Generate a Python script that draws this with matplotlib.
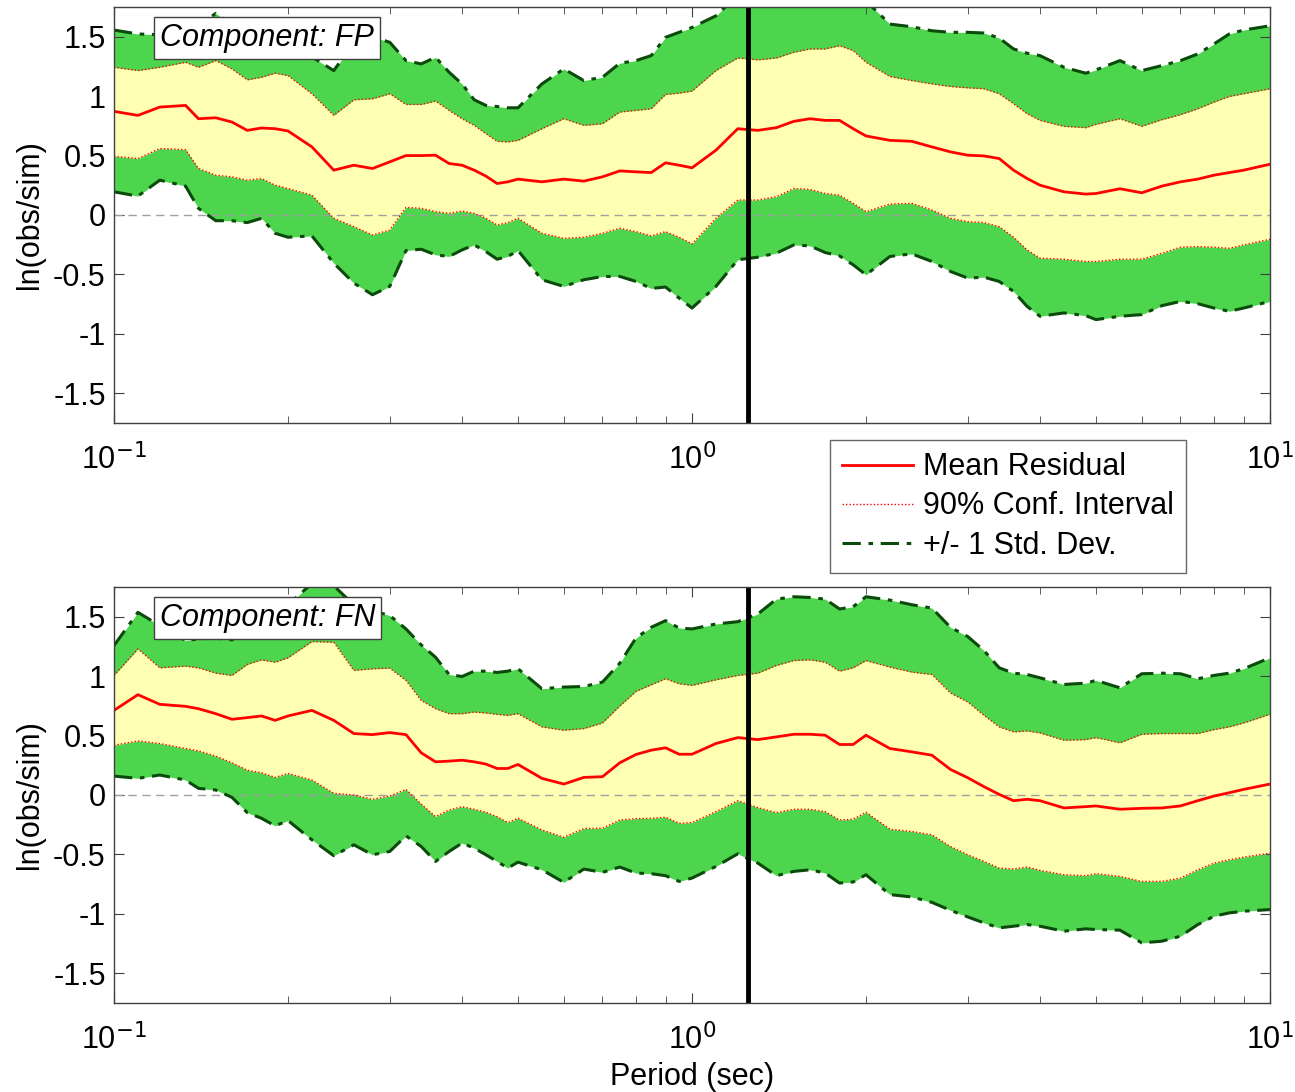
import matplotlib
matplotlib.use("Agg")
import matplotlib.pyplot as plt
from matplotlib.ticker import FixedLocator, FixedFormatter, NullFormatter
import numpy as np

plt.rcParams['font.family'] = ['Liberation Sans', 'DejaVu Sans']

# ---------------- data ----------------
periods = [0.1, 0.11, 0.12, 0.133, 0.14, 0.15, 0.16, 0.17, 0.18, 0.19, 0.2, 0.22, 0.24,
           0.26, 0.28, 0.3, 0.32, 0.34, 0.36, 0.38, 0.4, 0.42, 0.44, 0.46, 0.48, 0.5,
           0.55, 0.6, 0.65, 0.7, 0.75, 0.8, 0.85, 0.9, 0.95, 1.0, 1.1, 1.2, 1.3, 1.4,
           1.5, 1.6, 1.7, 1.8, 1.9, 2.0, 2.2, 2.4, 2.6, 2.8, 3.0, 3.2, 3.4, 3.6, 3.8,
           4.0, 4.4, 4.8, 5.0, 5.5, 6.0, 6.5, 7.0, 7.5, 8.0, 8.5, 9.0, 10.0]

# Component FP
fp_mean = [0.872, 0.838, 0.908, 0.922, 0.810, 0.818, 0.782, 0.712, 0.732, 0.726, 0.707, 0.573, 0.377,
           0.419, 0.391, 0.447, 0.500, 0.500, 0.503, 0.433, 0.419, 0.377, 0.327, 0.265, 0.279, 0.302,
           0.279, 0.302, 0.285, 0.321, 0.371, 0.363, 0.357, 0.439, 0.419, 0.397, 0.545, 0.726, 0.712, 0.735,
           0.788, 0.810, 0.796, 0.796, 0.726, 0.665, 0.628, 0.620, 0.573, 0.531, 0.503, 0.497, 0.475, 0.377, 0.307,
           0.251, 0.195, 0.176, 0.181, 0.221, 0.187, 0.243, 0.279, 0.302, 0.335, 0.357, 0.377, 0.427]
fp_ci_hi = [1.243, 1.215, 1.243, 1.285, 1.243, 1.299, 1.229, 1.137, 1.159, 1.193, 1.173, 1.020, 0.838,
            0.969, 0.978, 1.020, 0.930, 0.930, 0.958, 0.880, 0.810, 0.754, 0.684, 0.620, 0.615, 0.628,
            0.726, 0.810, 0.754, 0.768, 0.866, 0.880, 0.894, 1.014, 1.025, 1.042, 1.215, 1.321, 1.305, 1.321,
            1.369, 1.397, 1.397, 1.425, 1.383, 1.285, 1.165, 1.131, 1.103, 1.081, 1.070, 1.062, 1.020, 0.936, 0.852,
            0.796, 0.746, 0.735, 0.763, 0.810, 0.746, 0.802, 0.844, 0.894, 0.950, 0.997, 1.020, 1.062]
fp_ci_lo = [0.494, 0.475, 0.559, 0.550, 0.391, 0.335, 0.321, 0.293, 0.307, 0.251, 0.223, 0.167, -0.028,
            -0.098, -0.168, -0.126, 0.064, 0.056, 0.028, 0.014, 0.033, 0.014, -0.028, -0.084, -0.064, -0.028,
            -0.154, -0.196, -0.187, -0.154, -0.112, -0.140, -0.176, -0.140, -0.187, -0.243, -0.028, 0.126, 0.126, 0.154,
            0.223, 0.215, 0.181, 0.167, 0.098, 0.028, 0.092, 0.098, 0.042, -0.028, -0.056, -0.064, -0.098, -0.187, -0.294,
            -0.363, -0.372, -0.391, -0.391, -0.372, -0.372, -0.322, -0.271, -0.266, -0.271, -0.280, -0.252, -0.204]
fp_sd_hi = [1.556, 1.523, 1.517, 1.560, 1.600, 1.696, 1.600, 1.550, 1.500, 1.450, 1.420, 1.330, 1.215,
            1.450, 1.500, 1.453, 1.299, 1.271, 1.327, 1.201, 1.103, 0.969, 0.922, 0.913, 0.902, 0.902,
            1.103, 1.229, 1.131, 1.159, 1.277, 1.299, 1.341, 1.495, 1.537, 1.578, 1.676, 1.850, 1.850, 1.900,
            1.950, 1.950, 1.950, 1.900, 1.850, 1.800, 1.606, 1.584, 1.550, 1.537, 1.537, 1.531, 1.489, 1.397, 1.361,
            1.341, 1.243, 1.193, 1.221, 1.299, 1.215, 1.257, 1.299, 1.355, 1.439, 1.523, 1.556, 1.592]
fp_sd_lo = [0.195, 0.159, 0.293, 0.243, 0.056, -0.048, -0.048, -0.064, -0.028, -0.154, -0.187, -0.176, -0.405,
            -0.573, -0.671, -0.601, -0.299, -0.288, -0.335, -0.349, -0.294, -0.252, -0.308, -0.372, -0.349, -0.299,
            -0.545, -0.601, -0.545, -0.517, -0.517, -0.559, -0.618, -0.606, -0.699, -0.783, -0.601, -0.377, -0.355, -0.321,
            -0.252, -0.260, -0.316, -0.344, -0.419, -0.503, -0.349, -0.327, -0.391, -0.475, -0.531, -0.523, -0.559, -0.643, -0.769,
            -0.852, -0.824, -0.847, -0.880, -0.852, -0.838, -0.763, -0.727, -0.746, -0.783, -0.810, -0.783, -0.727]

# Component FN
fn_mean = [0.712, 0.844, 0.763, 0.746, 0.726, 0.684, 0.637, 0.651, 0.665, 0.628, 0.665, 0.712, 0.628,
           0.517, 0.508, 0.525, 0.508, 0.355, 0.279, 0.285, 0.293, 0.279, 0.260, 0.223, 0.223, 0.257,
           0.140, 0.092, 0.148, 0.154, 0.271, 0.341, 0.377, 0.397, 0.343, 0.343, 0.433, 0.483, 0.466, 0.489,
           0.511, 0.511, 0.503, 0.425, 0.425, 0.503, 0.391, 0.363, 0.335, 0.215, 0.145, 0.070, 0.005, -0.048, -0.036,
           -0.048, -0.109, -0.098, -0.092, -0.120, -0.112, -0.109, -0.092, -0.048, -0.009, 0.019, 0.047, 0.092]
fn_ci_hi = [1.006, 1.229, 1.070, 1.084, 1.070, 1.025, 1.006, 1.098, 1.137, 1.117, 1.154, 1.291, 1.285,
            1.048, 1.062, 1.067, 0.964, 0.796, 0.726, 0.684, 0.684, 0.698, 0.690, 0.679, 0.670, 0.684,
            0.573, 0.545, 0.559, 0.606, 0.749, 0.872, 0.927, 0.978, 0.936, 0.922, 0.969, 1.006, 1.025, 1.090,
            1.131, 1.137, 1.117, 1.042, 1.070, 1.131, 1.076, 1.034, 1.014, 0.858, 0.782, 0.670, 0.573, 0.531, 0.539,
            0.522, 0.461, 0.466, 0.483, 0.439, 0.511, 0.517, 0.517, 0.517, 0.550, 0.573, 0.606, 0.679]
fn_ci_lo = [0.419, 0.455, 0.433, 0.391, 0.371, 0.327, 0.271, 0.209, 0.187, 0.148, 0.181, 0.126, 0.014,
            0.000, -0.036, -0.009, 0.047, -0.076, -0.182, -0.126, -0.098, -0.120, -0.145, -0.182, -0.232, -0.196,
            -0.294, -0.355, -0.282, -0.280, -0.210, -0.199, -0.196, -0.187, -0.238, -0.232, -0.140, -0.048, -0.106, -0.148,
            -0.120, -0.120, -0.140, -0.210, -0.204, -0.145, -0.288, -0.307, -0.335, -0.433, -0.503, -0.559, -0.615, -0.623, -0.606,
            -0.634, -0.671, -0.679, -0.662, -0.685, -0.727, -0.727, -0.699, -0.629, -0.573, -0.545, -0.523, -0.489]
fn_sd_hi = [1.257, 1.537, 1.425, 1.299, 1.313, 1.320, 1.305, 1.400, 1.450, 1.500, 1.600, 1.780, 1.760,
            1.600, 1.550, 1.510, 1.397, 1.263, 1.159, 1.014, 0.997, 1.042, 1.042, 1.031, 1.042, 1.062,
            0.894, 0.908, 0.913, 0.950, 1.109, 1.321, 1.411, 1.467, 1.405, 1.397, 1.439, 1.458, 1.523, 1.648,
            1.668, 1.662, 1.648, 1.565, 1.584, 1.668, 1.640, 1.601, 1.573, 1.411, 1.333, 1.215, 1.070, 1.025, 1.014,
            0.986, 0.930, 0.941, 0.964, 0.902, 1.020, 1.025, 1.020, 0.978, 1.006, 1.025, 1.062, 1.154]
fn_sd_lo = [0.159, 0.140, 0.168, 0.126, 0.056, 0.042, -0.020, -0.148, -0.196, -0.260, -0.215, -0.377, -0.511,
            -0.419, -0.503, -0.475, -0.344, -0.433, -0.559, -0.475, -0.405, -0.447, -0.503, -0.559, -0.615, -0.565,
            -0.629, -0.735, -0.623, -0.651, -0.606, -0.657, -0.662, -0.679, -0.727, -0.699, -0.601, -0.495, -0.573, -0.679,
            -0.643, -0.629, -0.657, -0.741, -0.732, -0.671, -0.838, -0.858, -0.903, -0.970, -1.026, -1.076, -1.118, -1.104, -1.090,
            -1.104, -1.146, -1.126, -1.132, -1.137, -1.244, -1.230, -1.188, -1.090, -1.020, -0.992, -0.978, -0.964]

components = ['FP', 'FN']
cutoff_period = 1.25
yticks = [-1.5, -1, -0.5, 0, 0.5, 1, 1.5]
ytick_labels = ['-1.5', '-1', '-0.5', '0', '0.5', '1', '1.5']
xticks = [0.1, 1, 10]
xtick_labels = ['10$^{-1}$', '10$^{0}$', '10$^{1}$']
legend_labels = ['Mean Residual', '90% Conf. Interval', '+/- 1 Std. Dev.']

# ---------------- style ----------------
W, H = 1295, 1092
fig = plt.figure(figsize=(W / 100, H / 100), dpi=100)
GREEN = '#4dd64d'
YELLOW = '#ffffb3'
DKGREEN = '#0a4a0a'
FS = 22

def fr(x0, y0, x1, y1):
    return [x0 / W, 1 - y1 / H, (x1 - x0) / W, (y1 - y0) / H]

ax_top = fig.add_axes(fr(114, 7, 1270, 423))
ax_bot = fig.add_axes(fr(114, 587, 1270, 1003))

datasets = [
    (ax_top, fp_mean, fp_ci_lo, fp_ci_hi, fp_sd_lo, fp_sd_hi, components[0]),
    (ax_bot, fn_mean, fn_ci_lo, fn_ci_hi, fn_sd_lo, fn_sd_hi, components[1]),
]

SDSTYLE = (0, (6, 2.5, 1.5, 2.5))
handles = None
for ax, mean, cil, cih, sdl, sdh, comp in datasets:
    p = np.array(periods)
    ax.fill_between(p, sdl, sdh, color=GREEN, lw=0, zorder=1)
    ax.fill_between(p, cil, cih, color=YELLOW, lw=0, zorder=2)
    ax.axhline(0, color='#a0a0a0', lw=1, ls=(0, (6, 4)), zorder=3)
    h_sd, = ax.plot(p, sdh, color=DKGREEN, lw=2.2, ls=SDSTYLE, zorder=4)
    ax.plot(p, sdl, color=DKGREEN, lw=2.2, ls=SDSTYLE, zorder=4)
    h_ci, = ax.plot(p, cih, color='red', lw=1, ls=(0, (1, 1.5)), zorder=5)
    ax.plot(p, cil, color='red', lw=1, ls=(0, (1, 1.5)), zorder=5)
    h_m, = ax.plot(p, mean, color='red', lw=2, zorder=6)
    ax.axvline(cutoff_period, color='black', lw=3.5, zorder=7)
    if handles is None:
        handles = [h_m, h_ci, h_sd]

    ax.set_xscale('log')
    ax.set_xlim(0.1, 10)
    ax.set_ylim(-1.75, 1.75)
    ax.xaxis.set_major_locator(FixedLocator(xticks))
    ax.xaxis.set_major_formatter(FixedFormatter(xtick_labels))
    ax.xaxis.set_minor_locator(FixedLocator([m * d for d in (0.1, 1) for m in range(2, 10)]))
    ax.xaxis.set_minor_formatter(NullFormatter())
    ax.yaxis.set_major_locator(FixedLocator(yticks))
    ax.yaxis.set_major_formatter(FixedFormatter(ytick_labels))
    ax.tick_params(which='both', direction='in', top=True, right=True, color='#404040')
    ax.tick_params(which='major', length=7, labelsize=FS)
    ax.tick_params(which='minor', length=5)
    ax.tick_params(axis='x', which='major', pad=15)
    ax.tick_params(axis='y', which='major', pad=6)
    for s in ax.spines.values():
        s.set_color('#404040')
        s.set_linewidth(1)
        s.set_zorder(10)
    ax.set_ylabel('ln(obs/sim)', fontsize=FS, labelpad=6)
    ax.text(0.0395, 0.962, 'Component: ' + comp, transform=ax.transAxes, fontsize=FS,
            style='italic', ha='left', va='top', zorder=12,
            bbox=dict(boxstyle='square,pad=0.2', facecolor='white', edgecolor='#404040', lw=1))

ax_bot.set_xlabel('Period (sec)', fontsize=FS, labelpad=4)

leg = fig.legend(handles, legend_labels, loc='upper left', bbox_to_anchor=(830 / W, 1 - 440 / H),
                 fontsize=FS, frameon=True, fancybox=False, edgecolor='#404040',
                 borderaxespad=0, handlelength=2.3, handletextpad=0.35, labelspacing=0.3,
                 borderpad=0.4)
leg.get_frame().set_linewidth(1)

fig.savefig('out.png', dpi=100)
